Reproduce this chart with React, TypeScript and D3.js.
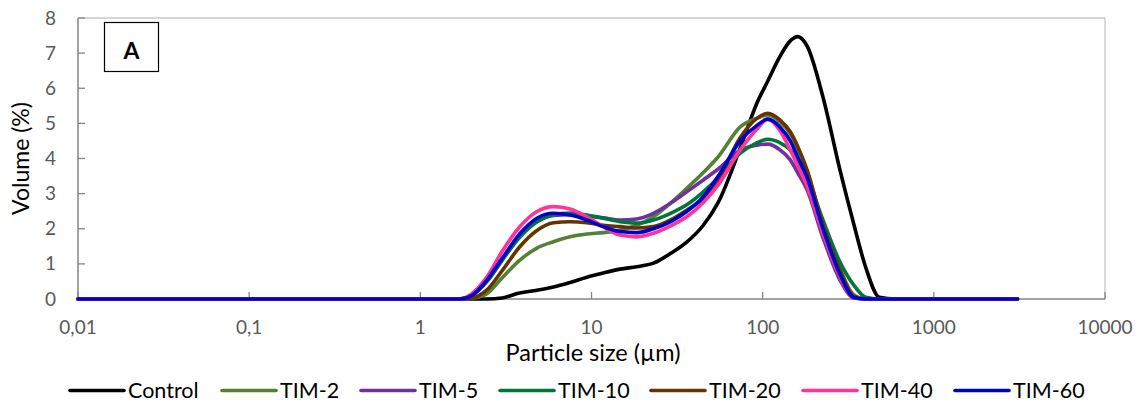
import React from "react";
import * as d3 from "d3";

const sizes = [0.01, 1.7, 2.0, 2.45, 3.0, 3.8, 4.8, 6.0, 7.5, 9.4, 11.7, 14.7, 18.4, 23, 29, 36, 45, 55, 74, 93, 107, 126, 145, 160, 182, 225, 283, 340, 400, 480, 600, 3080];

const control = [0, 0, 0, 0, 0.03, 0.17, 0.25, 0.34, 0.47, 0.62, 0.74, 0.85, 0.92, 1.02, 1.3, 1.62, 2.1, 2.75, 4.3, 5.6, 6.2, 6.9, 7.35, 7.47, 7.2, 5.75, 3.67, 2.15, 0.9, 0.05, 0, 0];
const tim2 = [0, 0, 0.02, 0.15, 0.6, 1.1, 1.45, 1.63, 1.77, 1.85, 1.89, 1.96, 2.1, 2.34, 2.73, 3.15, 3.6, 4.05, 4.9, 5.15, 5.24, 5.05, 4.7, 4.3, 3.6, 2.1, 0.85, 0.12, 0, 0, 0, 0];
const tim5 = [0, 0, 0.1, 0.5, 1.1, 1.8, 2.2, 2.38, 2.4, 2.36, 2.31, 2.25, 2.28, 2.44, 2.73, 3.05, 3.39, 3.7, 4.24, 4.38, 4.41, 4.25, 3.96, 3.6, 3.1, 1.75, 0.54, 0.03, 0, 0, 0, 0];
const tim10 = [0, 0, 0.1, 0.5, 1.1, 1.75, 2.2, 2.4, 2.45, 2.39, 2.3, 2.2, 2.16, 2.25, 2.44, 2.68, 3.05, 3.45, 4.15, 4.45, 4.55, 4.45, 4.24, 3.95, 3.47, 2.25, 1.05, 0.4, 0.05, 0, 0, 0];
const tim20 = [0, 0, 0.03, 0.26, 0.8, 1.48, 1.95, 2.17, 2.2, 2.17, 2.1, 2.06, 2.02, 2.06, 2.25, 2.53, 2.87, 3.4, 4.6, 5.15, 5.29, 5.1, 4.76, 4.35, 3.67, 2.1, 0.82, 0.08, 0, 0, 0, 0];
const tim40 = [0, 0, 0.15, 0.63, 1.35, 2.05, 2.49, 2.63, 2.56, 2.34, 2.06, 1.82, 1.77, 1.87, 2.08, 2.34, 2.75, 3.25, 4.25, 4.85, 5.12, 4.8, 4.24, 3.8, 3.2, 1.87, 0.63, 0.05, 0, 0, 0, 0];
const tim60 = [0, 0, 0.1, 0.54, 1.15, 1.85, 2.3, 2.44, 2.39, 2.25, 2.06, 1.92, 1.89, 2.0, 2.2, 2.49, 2.91, 3.5, 4.5, 4.95, 5.12, 4.9, 4.5, 4.05, 3.45, 2.0, 0.7, 0.05, 0, 0, 0, 0];

const seriesNames = ["Control", "TIM-2", "TIM-5", "TIM-10", "TIM-20", "TIM-40", "TIM-60"];
const seriesValues = [control, tim2, tim5, tim10, tim20, tim40, tim60];
const seriesColors = ["#000000", "#548235", "#7030A0", "#00763A", "#663300", "#FF3399", "#0000CC"];

const xTicks = [0.01, 0.1, 1, 10, 100, 1000, 10000];
const xTickLabels = ["0,01", "0,1", "1", "10", "100", "1000", "10000"];
const yTicks = [0, 1, 2, 3, 4, 5, 6, 7, 8];

const legendLineX = [70, 222, 361, 500, 651, 803, 955];

const FONT = "Lato, 'Liberation Sans', sans-serif";

export default function App() {
  const left = 78, right = 1105, top = 18, bottom = 299;
  const x = d3.scaleLog().domain([0.01, 10000]).range([left, right]);
  const y = d3.scaleLinear().domain([0, 8]).range([bottom, top]);
  const line = d3
    .line<[number, number]>()
    .x((d) => x(d[0]))
    .y((d) => y(d[1]))
    .curve(d3.curveMonotoneX);

  return (
    <svg width={1142} height={407} style={{ position: "absolute", left: 0, top: 0, background: "#fff" }}>
      <rect x={0} y={0} width={1142} height={407} fill="#ffffff" />
      <line x1={left} x2={right} y1={top} y2={top} stroke="#c8c8c8" strokeWidth={1.3} />
      <line x1={right} x2={right} y1={top} y2={bottom} stroke="#c8c8c8" strokeWidth={1.3} />
      <line x1={left} x2={right} y1={bottom} y2={bottom} stroke="#858585" strokeWidth={1.5} />
      <line x1={left} x2={left} y1={top} y2={bottom} stroke="#858585" strokeWidth={1.5} />
      {yTicks.map((t) => (
        <g key={"y" + t}>
          <line x1={left} x2={left + 7} y1={y(t)} y2={y(t)} stroke="#858585" strokeWidth={1.3} />
          <text x={56} y={y(t) + 6.5} textAnchor="end" fontFamily={FONT} fontSize={19} fill="#595959">
            {t}
          </text>
        </g>
      ))}
      {xTicks.map((t, i) => (
        <g key={"x" + t}>
          <line x1={x(t)} x2={x(t)} y1={bottom} y2={bottom - 7} stroke="#858585" strokeWidth={1.3} />
          <text x={x(t)} y={334} textAnchor="middle" fontFamily={FONT} fontSize={19} fill="#595959">
            {xTickLabels[i]}
          </text>
        </g>
      ))}
      {seriesValues.map((vals, i) => (
        <path
          key={seriesNames[i]}
          d={line(sizes.map((s, j) => [s, vals[j]] as [number, number])) || ""}
          fill="none"
          stroke={seriesColors[i]}
          strokeWidth={3.6}
          strokeLinejoin="round"
          strokeLinecap="round"
        />
      ))}
      <rect x={104.5} y={22.5} width={54} height={49} fill="#fff" stroke="#000" strokeWidth={1.2} />
      <text x={131.5} y={59} textAnchor="middle" fontFamily={FONT} fontWeight="bold" fontSize={23} fill="#000">
        A
      </text>
      <text x={593} y={361} textAnchor="middle" fontFamily={FONT} fontSize={23.5} fill="#000">
        Particle size (µm)
      </text>
      <text
        transform={`translate(29, ${(top + bottom) / 2}) rotate(-90)`}
        textAnchor="middle"
        fontFamily={FONT}
        fontSize={23}
        fill="#000"
      >
        Volume (%)
      </text>
      {seriesNames.map((n, i) => (
        <g key={"lg" + n}>
          <line
            x1={legendLineX[i]}
            x2={legendLineX[i] + 54}
            y1={390.5}
            y2={390.5}
            stroke={seriesColors[i]}
            strokeWidth={3.6}
            strokeLinecap="round"
          />
          <text x={legendLineX[i] + 58} y={398} fontFamily={FONT} fontSize={21.5} fill="#000">
            {n}
          </text>
        </g>
      ))}
    </svg>
  );
}
